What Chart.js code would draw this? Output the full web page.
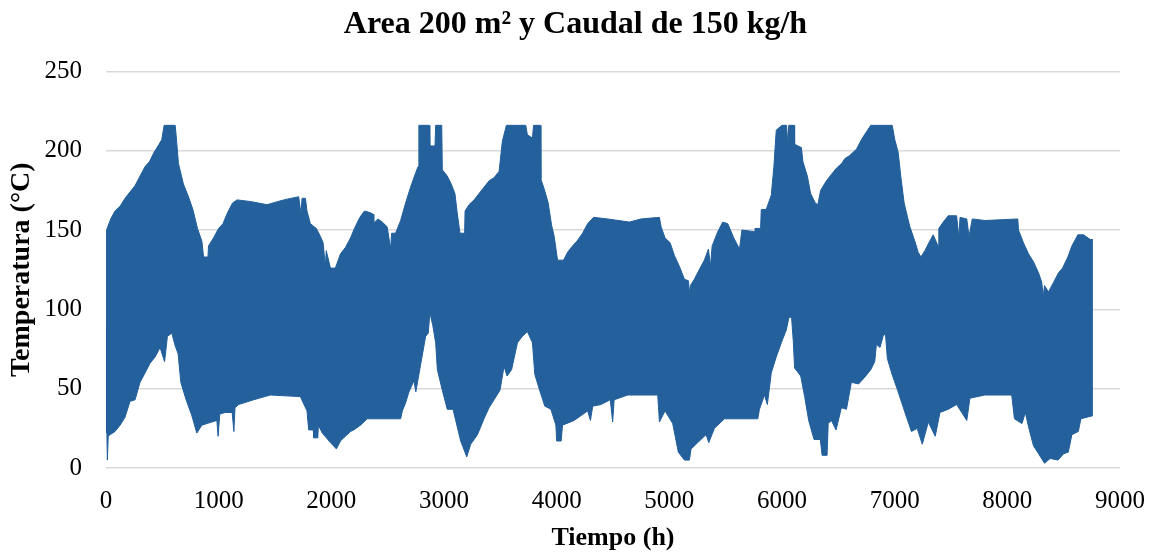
<!DOCTYPE html>
<html>
<head>
<meta charset="utf-8">
<script src="https://cdn.jsdelivr.net/npm/chart.js@4"></script>
<style>
  body { margin: 0; background: #fff; overflow: hidden; }
  #wrap { width: 1151px; height: 554px; position: relative; }
</style>
</head>
<body>
<div id="wrap"><canvas id="tempChart"></canvas></div>
<script>
// envelope of the hourly series (hour, °C)
var upperHours = [0, 5, 42, 80, 125, 169, 213, 258, 302, 347, 385, 427, 471, 495, 516, 614, 622, 643, 687, 732, 771, 812, 851, 866, 905, 910, 954, 999, 1038, 1079, 1123, 1162, 1280, 1429, 1577, 1710, 1731, 1740, 1770, 1784, 1814, 1867, 1903, 1927, 1947, 1955, 1992, 2036, 2081, 2125, 2170, 2205, 2253, 2294, 2342, 2370, 2377, 2385, 2413, 2452, 2496, 2526, 2535, 2570, 2615, 2659, 2703, 2748, 2770, 2777, 2870, 2874, 2920, 2926, 2980, 2985, 3029, 3064, 3097, 3117, 3142, 3183, 3187, 3222, 3267, 3311, 3355, 3400, 3444, 3489, 3518, 3554, 3726, 3740, 3785, 3795, 3855, 3860, 3889, 3925, 3955, 3978, 4008, 4061, 4097, 4141, 4180, 4230, 4275, 4328, 4453, 4645, 4749, 4912, 4927, 4962, 5007, 5045, 5090, 5134, 5170, 5178, 5187, 5222, 5258, 5311, 5347, 5365, 5380, 5430, 5474, 5519, 5572, 5623, 5644, 5756, 5760, 5810, 5816, 5860, 5875, 5905, 5928, 5949, 6000, 6040, 6053, 6060, 6108, 6112, 6172, 6186, 6225, 6254, 6296, 6318, 6343, 6394, 6438, 6483, 6530, 6557, 6601, 6646, 6661, 6705, 6750, 6788, 6978, 7001, 7031, 7054, 7084, 7135, 7179, 7209, 7233, 7268, 7304, 7342, 7385, 7392, 7431, 7476, 7550, 7570, 7580, 7640, 7660, 7689, 7801, 8093, 8099, 8143, 8188, 8232, 8277, 8306, 8318, 8330, 8365, 8410, 8454, 8490, 8537, 8573, 8626, 8677, 8736, 8760];
var upperTemps = [90, 150, 157, 162, 165, 170, 174, 178, 184, 190, 193, 199, 204, 207, 216, 216, 210, 192, 179, 171, 163, 151, 143, 133, 133, 140, 145, 151, 154, 161, 167, 169, 168, 166, 169, 171, 160, 170, 170, 162, 154, 151, 146, 142, 127, 137, 126, 126, 135, 139, 145, 151, 158, 162, 161, 160, 146, 155, 157, 155, 152, 138, 148, 148, 156, 167, 177, 186, 190, 216, 216, 203, 203, 216, 216, 188, 184, 179, 173, 161, 148, 148, 162, 166, 169, 173, 177, 181, 183, 187, 206, 216, 216, 210, 208, 216, 216, 182, 176, 167, 153, 146, 131, 131, 136, 140, 143, 148, 154, 158, 157, 155, 157, 158, 152, 145, 142, 134, 127, 119, 118, 110, 115, 119, 124, 131, 138, 127, 140, 149, 155, 154, 145, 138, 150, 149, 151, 151, 163, 163, 166, 172, 190, 213, 216, 216, 204, 216, 216, 204, 202, 193, 184, 173, 167, 166, 175, 181, 185, 189, 192, 195, 197, 200, 201, 207, 212, 216, 216, 207, 199, 184, 167, 152, 143, 136, 133, 137, 142, 147, 140, 151, 155, 159, 159, 145, 158, 157, 146, 157, 156, 157, 150, 142, 135, 130, 123, 117, 108, 115, 111, 117, 123, 126, 133, 140, 147, 147, 144, 144];

var lowerHours = [0, 8, 12, 20, 36, 80, 125, 169, 213, 258, 302, 347, 391, 436, 480, 520, 545, 584, 614, 640, 664, 711, 762, 806, 851, 895, 984, 995, 1010, 1058, 1120, 1135, 1145, 1177, 1310, 1458, 1725, 1784, 1799, 1840, 1844, 1880, 1885, 1920, 1992, 2045, 2081, 2110, 2170, 2199, 2259, 2318, 2615, 2630, 2659, 2689, 2733, 2750, 2792, 2837, 2860, 2875, 2900, 2926, 2941, 2985, 3029, 3080, 3104, 3148, 3202, 3237, 3297, 3355, 3400, 3444, 3497, 3533, 3560, 3600, 3652, 3696, 3740, 3785, 3806, 3853, 3895, 3949, 3993, 4000, 4040, 4052, 4156, 4275, 4300, 4320, 4393, 4476, 4497, 4510, 4631, 4897, 4912, 4962, 5030, 5080, 5134, 5178, 5193, 5252, 5326, 5350, 5400, 5489, 5785, 5800, 5844, 5870, 5905, 5949, 5994, 6038, 6062, 6085, 6100, 6112, 6166, 6201, 6237, 6284, 6340, 6356, 6400, 6410, 6438, 6480, 6527, 6572, 6616, 6680, 6732, 6788, 6823, 6838, 6870, 6897, 6918, 6935, 6977, 7031, 7096, 7149, 7200, 7245, 7299, 7360, 7402, 7476, 7550, 7640, 7668, 7801, 8039, 8063, 8130, 8160, 8188, 8232, 8277, 8330, 8380, 8450, 8500, 8541, 8573, 8630, 8653, 8760];
var lowerTemps = [90, 22, 5, 20, 21, 23, 27, 32, 42, 43, 54, 60, 66, 70, 76, 67, 83, 85, 77, 72, 54, 43, 33, 22, 27, 28, 30, 20, 34, 35, 35, 23, 38, 40, 43, 46, 45, 36, 24, 24, 19, 19, 27, 22, 16, 12, 17, 19, 23, 24, 27, 31, 31, 36, 41, 48, 55, 48, 65, 83, 85, 98, 90, 79, 62, 49, 37, 37, 30, 17, 7, 15, 21, 31, 38, 43, 49, 64, 58, 62, 79, 83, 86, 79, 59, 48, 39, 37, 27, 17, 17, 27, 30, 36, 30, 39, 40, 43, 29, 43, 46, 46, 29, 36, 28, 10, 5, 5, 12, 16, 21, 16, 25, 31, 31, 37, 46, 40, 60, 70, 79, 87, 95, 95, 80, 63, 58, 45, 30, 18, 18, 8, 8, 28, 30, 24, 38, 37, 54, 53, 57, 62, 67, 78, 76, 83, 85, 69, 59, 48, 34, 23, 25, 15, 29, 20, 35, 37, 40, 30, 44, 46, 46, 31, 28, 35, 26, 14, 9, 3, 6, 5, 9, 10, 21, 23, 31, 33];

var xTicks = [0, 1000, 2000, 3000, 4000, 5000, 6000, 7000, 8000, 9000];
var yTicks = [0, 50, 100, 150, 200, 250];

var blue = '#23609C';

function toPoints(hours, temps) {
    return hours.map(function (h, i) { return { x: h, y: temps[i] }; });
}

Chart.defaults.font.family = "'Liberation Serif', 'Times New Roman', serif";
Chart.defaults.color = '#000';

var ctx = document.getElementById('tempChart');
var myChart = new Chart(ctx, {
    type: 'line',
    data: {
        datasets: [
            {
                label: 'min',
                data: toPoints(lowerHours, lowerTemps),
                borderColor: blue,
                borderWidth: 1,
                pointRadius: 0,
                fill: false,
            },
            {
                label: 'max',
                data: toPoints(upperHours, upperTemps),
                borderColor: blue,
                backgroundColor: blue,
                borderWidth: 1,
                pointRadius: 0,
                fill: '-1',
            },
        ]
    },
    options: {
        responsive: true,
        maintainAspectRatio: false,
        animation: false,
        layout: {
            padding: 0,
        },
        plugins: {
            legend: { display: false },
            tooltip: { enabled: false },
            title: {
                display: true,
                text: 'Area 200 m² y Caudal de 150 kg/h',
                color: '#000',
                font: { size: 32, weight: 'bold' },
                padding: { top: 6, bottom: 27 },
            },
        },
        scales: {
            x: {
                type: 'linear',
                min: 0,
                max: 9000,
                afterBuildTicks: function (scale) {
                    scale.ticks = xTicks.map(function (v) { return { value: v }; });
                },
                afterFit: function (scale) {
                    scale.height = 86;
                },
                // invisible tick marks push the labels down; tick padding sets the right margin
                grid: {
                    display: true,
                    drawOnChartArea: false,
                    drawTicks: true,
                    tickLength: 12,
                    color: 'rgba(0,0,0,0)',
                },
                border: { display: false },
                ticks: {
                    font: { size: 25 },
                    padding: 6,
                    maxRotation: 0,
                    autoSkip: false,
                    callback: function (value) { return String(value); },
                },
                title: {
                    display: true,
                    text: 'Tiempo (h)',
                    font: { size: 26, weight: 'bold' },
                    padding: { top: 0, bottom: 0 },
                },
            },
            y: {
                min: 0,
                max: 250,
                afterBuildTicks: function (scale) {
                    scale.ticks = yTicks.map(function (v) { return { value: v }; });
                },
                afterFit: function (scale) {
                    scale.width = 106;
                },
                grid: {
                    color: '#D9D9D9',
                    lineWidth: 1.5,
                    drawTicks: false,
                },
                border: { display: false },
                ticks: {
                    font: { size: 25 },
                    padding: 24,
                },
                title: {
                    display: true,
                    text: 'Temperatura (°C)',
                    font: { size: 28, weight: 'bold' },
                    padding: { top: 5, bottom: 0 },
                },
            },
        },
    },
});
</script>
</body>
</html>
